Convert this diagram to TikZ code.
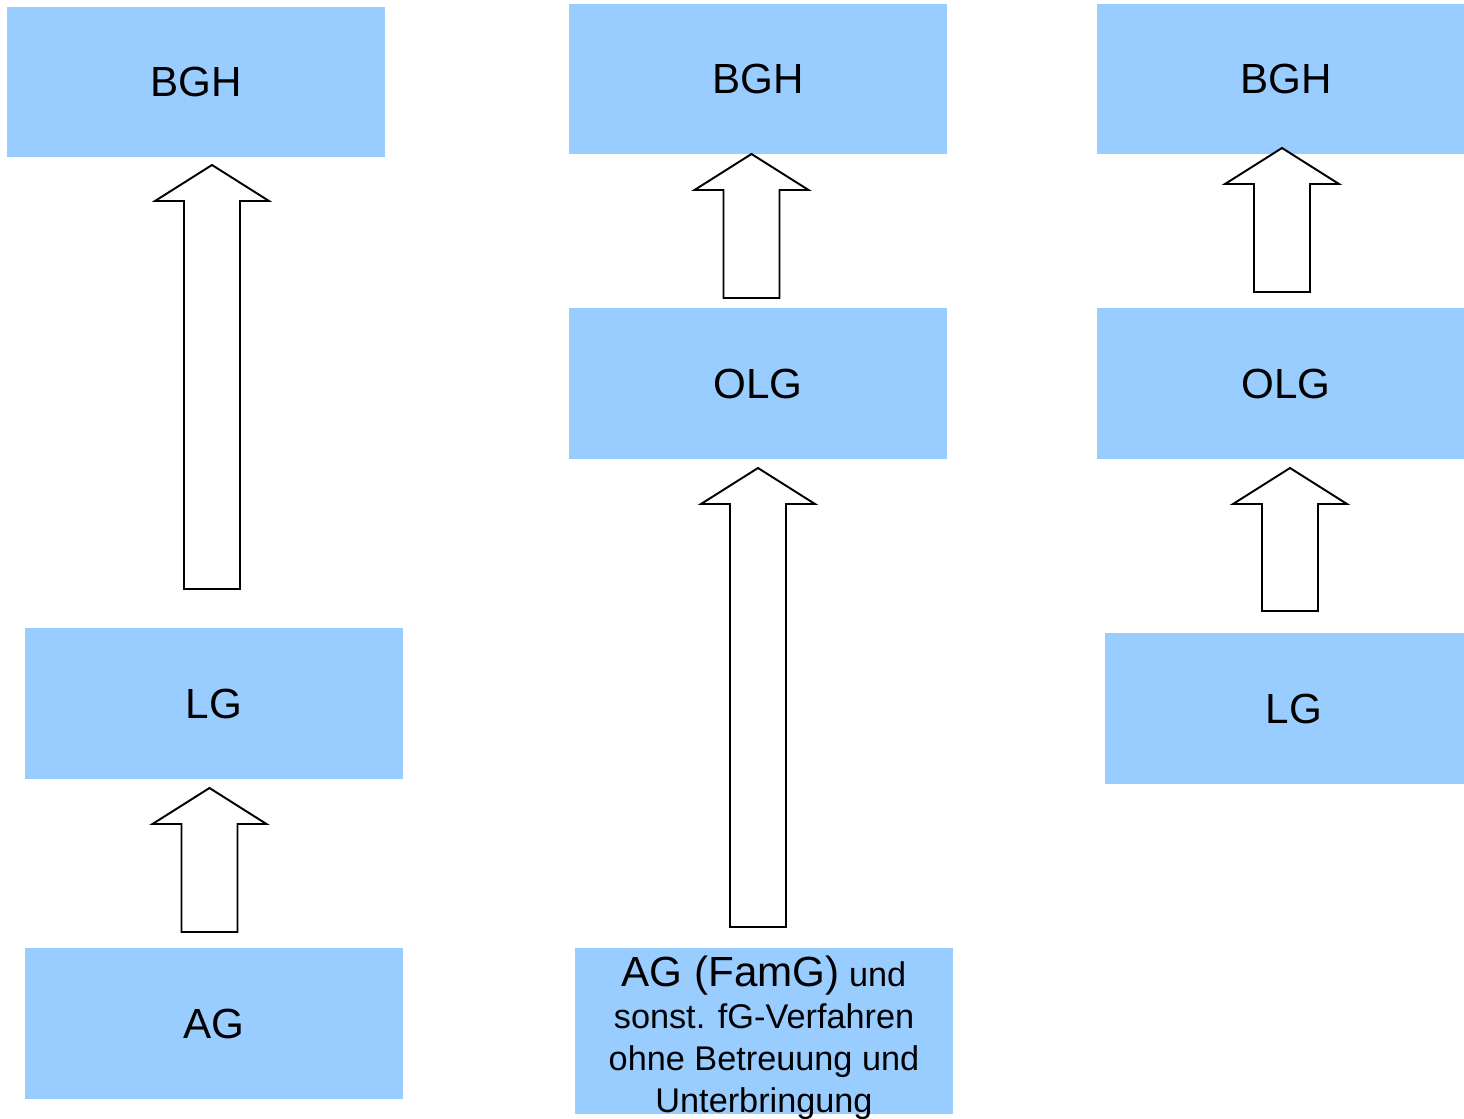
\documentclass[tikz,border=0pt]{standalone}
\usepackage{fontspec}
\setmainfont{Liberation Sans}
\definecolor{boxblue}{HTML}{99CCFF}
\tikzset{
  box/.style={fill=boxblue, draw=none, inner sep=0pt, minimum width=7.56cm, minimum height=3.02cm,
    font=\fontsize{24}{28}\selectfont, text=black},
  blockarrow/.style={draw=black, fill=white, line width=1.1pt, line join=miter}
}
\newcommand\upblock[4]{%
  \draw[blockarrow] ({#1-28},#2) -- ({#1-28},#3) -- ({#1-57},#3) -- (#1,#4) -- ({#1+57},#3) -- ({#1+28},#3) -- ({#1+28},#2) -- cycle;}
\begin{document}
\begin{tikzpicture}[x=0.02cm, y=-0.02cm]
\useasboundingbox (0,0) rectangle (1464,1119);
\clip (0,0) rectangle (1464,1119);
% column 1
\node[box] (bgh1) at (196,82) {BGH};
\node[box] (lg1) at (214,703.5) {LG};
\node[box] (ag1) at (214,1023.5) {AG};
\upblock{212}{589}{201}{165}
\upblock{209.5}{932}{824}{788}
% column 2
\node[box] (bgh2) at (758,79) {BGH};
\node[box] (olg2) at (758,383.5) {OLG};
\node[box, minimum height=3.32cm] (ag2) at (764,1031) {};
\node[align=center, inner sep=0pt, font=\fontsize{19.5}{24}\selectfont] (ag2t) at (764,1038)
  {{\fontsize{24}{24}\selectfont AG (FamG)} und\\sonst. fG-Verfahren\\ohne Betreuung und\\Unterbringung};
\upblock{751.5}{298}{190}{154}
\upblock{758}{927}{504}{468}
% column 3
\node[box] (bgh3) at (1286,79) {BGH};
\node[box] (olg3) at (1286,383.5) {OLG};
\node[box] (lg3) at (1294,708.5) {LG};
\upblock{1282}{292}{184}{148}
\upblock{1290}{611}{504}{468}
\end{tikzpicture}
\end{document}
